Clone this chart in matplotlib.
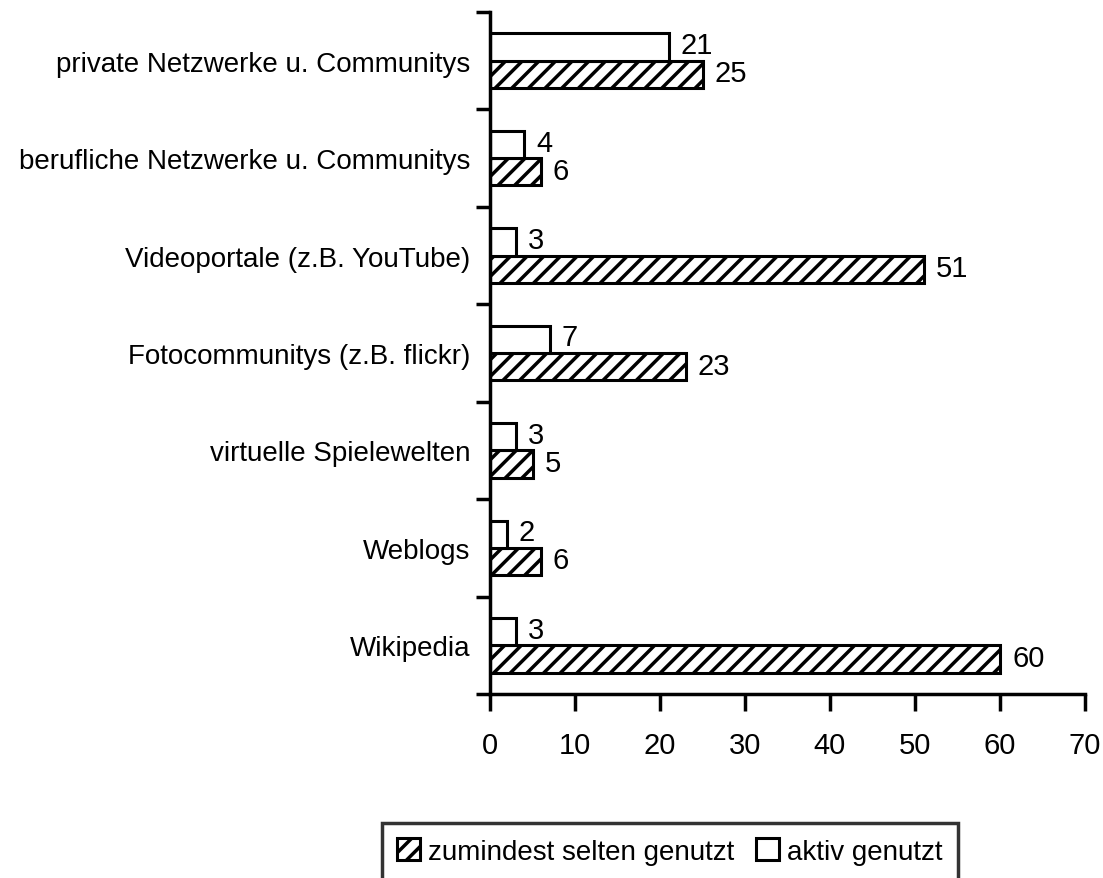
import matplotlib
matplotlib.use("Agg")
import matplotlib.pyplot as plt
import numpy as np

categories = ["private Netzwerke u. Communitys",
              "berufliche Netzwerke u. Communitys",
              "Videoportale (z.B. YouTube)",
              "Fotocommunitys (z.B. flickr)",
              "virtuelle Spielewelten",
              "Weblogs",
              "Wikipedia"]
aktiv = [21, 4, 3, 7, 3, 2, 3]
selten = [25, 6, 51, 23, 5, 6, 60]
xticks = [0, 10, 20, 30, 40, 50, 60, 70]
label_selten = "zumindest selten genutzt"
label_aktiv = "aktiv genutzt"

plt.rcParams['font.family'] = ['Liberation Sans', 'DejaVu Sans']
plt.rcParams['hatch.linewidth'] = 2.5
plt.rcParams['hatch.color'] = 'black'

fig = plt.figure(figsize=(11.03, 8.79), dpi=100)
ax = fig.add_axes([490/1103, 1-695/879, (1085-490)/1103, (695-13)/879])

n = len(categories)
y = np.arange(n)[::-1]
h = 0.28
fs = 20
fs_val = 21

b_sel = ax.barh(y - h/2, selten, height=h, color='white', edgecolor='black',
                linewidth=2.2, hatch='//', label=label_selten)
b_akt = ax.barh(y + h/2, aktiv, height=h, color='white', edgecolor='black',
                linewidth=2.2, label=label_aktiv)

for yi, v in zip(y, aktiv):
    ax.annotate(str(v), (v, yi + h/2), xytext=(12, 2), textcoords='offset pixels',
                va='center', ha='left', fontsize=fs_val)
for yi, v in zip(y, selten):
    ax.annotate(str(v), (v, yi - h/2), xytext=(12, 1), textcoords='offset pixels',
                va='center', ha='left', fontsize=fs_val)

ax.set_xlim(0, 70)
ax.set_ylim(-0.5, n - 0.5)
ax.set_xticks(xticks)
ax.set_xticklabels([str(t) for t in xticks], fontsize=fs_val)
ax.set_yticks(np.arange(n + 1) - 0.5)
ax.set_yticklabels([])
ax.set_yticks(y, minor=True)
ax.set_yticklabels(categories, minor=True, fontsize=fs)
ax.tick_params(axis='y', which='minor', length=0, pad=14)
ax.tick_params(axis='y', which='major', length=10, width=2.5, direction='out')
ax.tick_params(axis='x', length=12, width=2.5, direction='out', pad=15)

for s in ['top', 'right']:
    ax.spines[s].set_visible(False)
for s in ['left', 'bottom']:
    ax.spines[s].set_linewidth(2.5)

leg = fig.legend(handles=[b_sel, b_akt], labels=[label_selten, label_aktiv],
                 loc='upper center', bbox_to_anchor=(670/1103, 1-824/879),
                 ncol=2, frameon=True, fancybox=False, fontsize=fs,
                 handlelength=0.8, handleheight=0.8, handletextpad=0.3,
                 columnspacing=0.8, borderpad=0.55, borderaxespad=0)
leg.get_frame().set_edgecolor('black')
leg.get_frame().set_linewidth(2.5)

fig.savefig("out.png", dpi=100)
